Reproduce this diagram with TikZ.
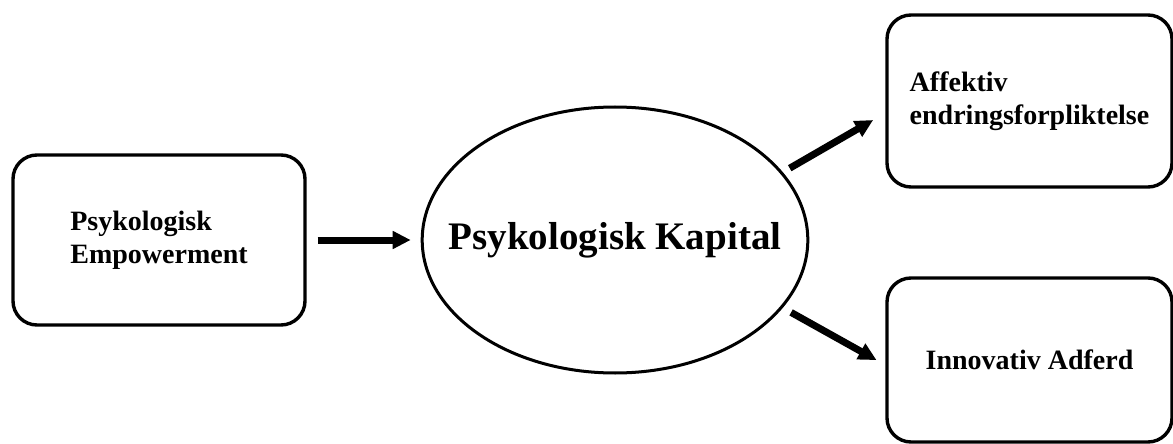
\documentclass[tikz,border=0pt]{standalone}
\usepackage{fontspec}
\setmainfont{Liberation Serif}
\usetikzlibrary{arrows.meta,shapes.geometric}

\begin{document}
\begin{tikzpicture}[x=0.5pt, y=-0.5pt,
box/.style={rectangle, draw=black, line width=1.7pt, rounded corners=12pt, align=left, font=\fontsize{14}{16.5}\selectfont\bfseries, inner sep=0pt},
kapital/.style={ellipse, draw=black, line width=1.5pt, minimum width=192pt, minimum height=133pt, inner xsep=-15pt, inner ysep=0pt, font=\fontsize{19.5}{22}\selectfont\bfseries},
arrow/.style={->, >={Triangle[length=9pt, width=8.5pt]}, line width=3.5pt}]
\useasboundingbox (0,0) rectangle (1173,444);
\node[box, minimum width=146pt, minimum height=85pt] (emp) at (159,240) {Psykologisk\\Empowerment};
\node[kapital] (kap) at (615,240) {Psykologisk\ Kapital};
\node[box, minimum width=142.5pt, minimum height=86pt] (aff) at (1029.5,101) {Affektiv\\endringsforpliktelse};
\node[box, minimum width=142.5pt, minimum height=82pt] (inn) at (1029.5,360) {Innovativ Adferd};
\draw[arrow, shorten <=5.5pt, shorten >=5pt] (emp.east) -- (kap.west);
\draw[arrow, shorten <=4pt, shorten >=7pt] (kap.22) -- ([yshift=-6pt]aff.west);
\draw[arrow, shorten <=4.75pt, shorten >=5pt] (kap.-22) -- ([yshift=-2.5pt]inn.west);
\end{tikzpicture}
\end{document}
